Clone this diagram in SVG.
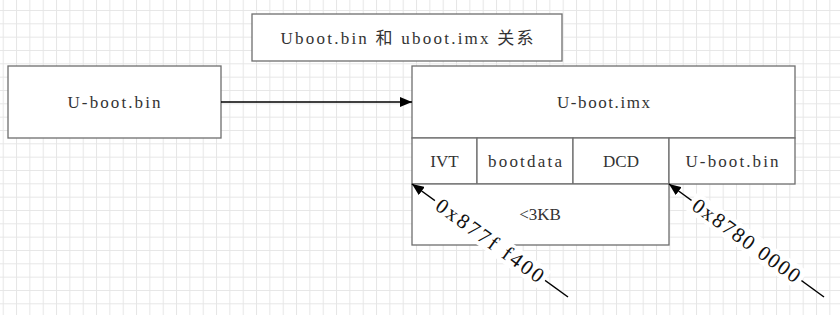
<svg xmlns="http://www.w3.org/2000/svg" width="840" height="315" viewBox="0 0 840 315">
<defs>
<pattern id="grid" x="2.7" y="10" width="13.333" height="13.333" patternUnits="userSpaceOnUse">
<path d="M0 0.5H13.333M0.5 0V13.333" fill="none" stroke="#e6e6e6" stroke-width="1"/>
</pattern>
<marker id="ah" viewBox="0 0 12 10" refX="12" refY="5" markerWidth="12" markerHeight="10" markerUnits="userSpaceOnUse" orient="auto">
<path d="M0 0L12 5L0 10Z" fill="#000"/>
</marker>
</defs>
<style>
.box{fill:#fff;stroke:#6e6e6e;stroke-width:1.3}
.t{font-family:"Liberation Serif","Noto Sans CJK SC",serif;font-size:17px;fill:#333;text-anchor:middle;dominant-baseline:central}
.lt{font-family:"Liberation Serif",serif;font-size:21px;fill:#111;text-anchor:middle;dominant-baseline:central}
.c{stroke:#000;stroke-width:1.5;fill:none}
</style>
<rect width="840" height="315" fill="#fff"/>
<rect width="840" height="315" fill="url(#grid)"/>

<g id="title">
<rect class="box" x="252" y="14" width="310" height="47"/>
<text class="t" x="407" y="38" textLength="253">Uboot.bin 和 uboot.imx 关系</text>
</g>

<g id="ubootbin">
<rect class="box" x="8" y="66" width="213" height="72"/>
<text class="t" x="114" y="102" textLength="93">U-boot.bin</text>
</g>

<g id="ubootimx">
<rect class="box" x="412" y="66" width="383" height="72"/>
<text class="t" x="603.5" y="102" textLength="93">U-boot.imx</text>
</g>

<g id="ivt">
<rect class="box" x="412" y="138" width="65" height="46"/>
<text class="t" x="444.5" y="161">IVT</text>
</g>
<g id="bootdata">
<rect class="box" x="477" y="138" width="96" height="46"/>
<text class="t" x="525" y="161" textLength="74">bootdata</text>
</g>
<g id="dcd">
<rect class="box" x="573" y="138" width="96" height="46"/>
<text class="t" x="621" y="161">DCD</text>
</g>
<g id="ubootbin2">
<rect class="box" x="669" y="138" width="126" height="46"/>
<text class="t" x="732" y="161" textLength="93">U-boot.bin</text>
</g>
<g id="size">
<rect class="box" x="412" y="184" width="257" height="61"/>
<text class="t" x="540" y="214.5">&lt;3KB</text>
</g>

<g id="connectors">
<line class="c" x1="221" y1="102" x2="412" y2="102" marker-end="url(#ah)"/>
<line class="c" x1="568" y1="297" x2="412" y2="184" marker-end="url(#ah)"/>
<line class="c" x1="824" y1="297" x2="669" y2="184" marker-end="url(#ah)"/>
<g transform="translate(490,240.5) rotate(35.9)">
<rect x="-68" y="-11" width="136" height="22" fill="#fff"/>
<text class="lt" x="0" y="0" textLength="128">0x877f f400</text>
</g>
<g transform="translate(746.5,240.5) rotate(35.9)">
<rect x="-68" y="-11" width="136" height="22" fill="#fff"/>
<text class="lt" x="0" y="0" textLength="128">0x8780 0000</text>
</g>
</g>
</svg>
